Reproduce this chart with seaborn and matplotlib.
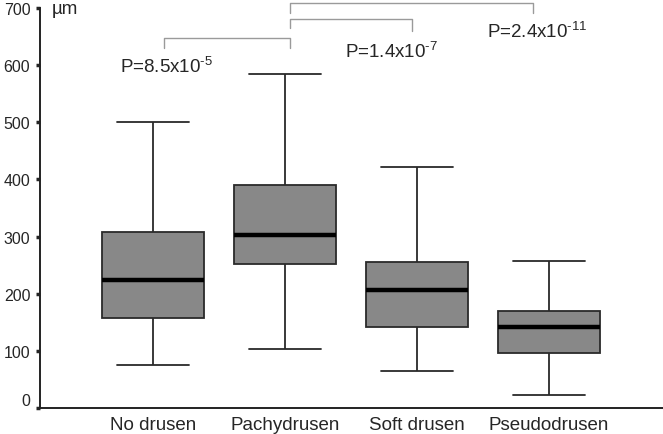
import pandas as pd
import matplotlib
matplotlib.use('Agg')
import matplotlib.pyplot as plt
import seaborn as sns

# Box summary values (um)
groups = ['No drusen', 'Pachydrusen', 'Soft drusen', 'Pseudodrusen']
whisker_low = [75, 104, 65, 23]
q1 = [157, 252, 142, 96]
median = [224, 303, 207, 142]
q3 = [308, 390, 256, 170]
whisker_high = [500, 585, 421, 258]

# Comparison brackets: (left group pos, right group pos, bar height, left leg end, right leg end)
bracket_x1 = [0.08, 1.04, 1.04]
bracket_x2 = [1.04, 1.96, 2.88]
bracket_top = [647, 681, 708]
bracket_left_end = [630, 665, 691]
bracket_right_end = [630, 660, 691]
p_labels = ['P=8.5x10$^{\u20105}$', 'P=1.4x10$^{\u20107}$', 'P=2.4x10$^{\u201011}$']
p_x = [-0.25, 1.455, 2.53]
p_y = [598, 625, 660]

# five numbers per group -> quartiles and min/max come out exactly
rows = []
for g, lo, a, m, b, hi in zip(groups, whisker_low, q1, median, q3, whisker_high):
    for v in (lo, a, m, b, hi):
        rows.append({'group': g, 'value': v})
df = pd.DataFrame(rows)

sns.set_style('white')
plt.rcParams['font.family'] = ['Liberation Sans', 'DejaVu Sans']
plt.rcParams['mathtext.fontset'] = 'custom'
plt.rcParams['mathtext.rm'] = 'Liberation Sans'
plt.rcParams['mathtext.it'] = 'Liberation Sans:italic'

fig = plt.figure(figsize=(6.63, 4.35), dpi=100)
ax = fig.add_axes([0.0603, 0.0598, 0.9397, 0.9195])

sns.boxplot(data=df, x='group', y='value', order=groups, whis=(0, 100),
            width=0.77, color='#888888', saturation=1, linecolor='#2a2a2a',
            linewidth=1.3, fliersize=0,
            medianprops=dict(color='black', linewidth=3.2), ax=ax)

# widen the whisker caps a bit
for ln in ax.lines:
    xs = ln.get_xdata()
    ys = ln.get_ydata()
    if len(xs) == 2 and ys[0] == ys[1] and ln.get_linewidth() < 3:
        c = (xs[0] + xs[1]) / 2
        ln.set_xdata([c - 0.27, c + 0.27])

ax.set_xlim(-0.856, 3.864)
ax.set_ylim(0, 700)
ax.set_yticks(range(0, 701, 100))
ax.set_xlabel('')
ax.set_ylabel('')
sns.despine(ax=ax)
for s in ['left', 'bottom']:
    ax.spines[s].set_linewidth(1.4)
    ax.spines[s].set_color('#222222')

ax.tick_params(axis='x', length=0, pad=6, labelsize=13.5)
ax.tick_params(axis='y', length=3, width=2.5, pad=4, labelsize=11.5, left=True)
ax.get_yticklabels()[0].set_va('bottom')

ax.text(-0.77, 700, 'µm', fontsize=13.5, va='center', ha='left')

for x1, x2, top, l_end, r_end in zip(bracket_x1, bracket_x2, bracket_top,
                                     bracket_left_end, bracket_right_end):
    ax.plot([x1, x1, x2, x2], [l_end, top, top, r_end], color='#9a9a9a',
            linewidth=1.0, clip_on=False)

for lab, x, y in zip(p_labels, p_x, p_y):
    ax.text(x, y, lab, fontsize=13.5, ha='left', va='center')

plt.savefig('out.png', dpi=100)
